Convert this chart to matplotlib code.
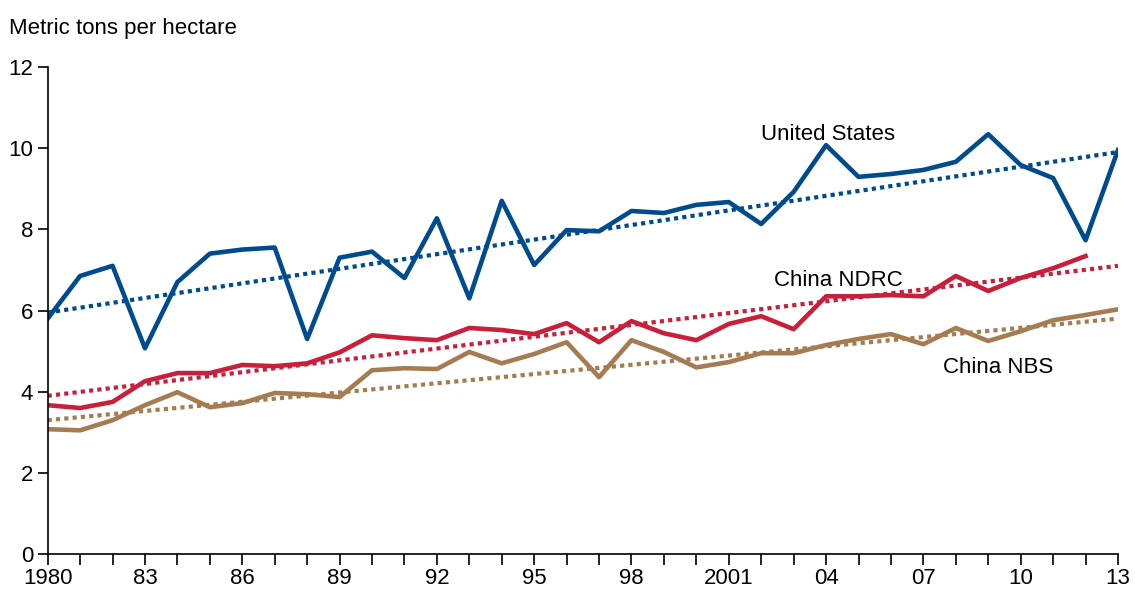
import numpy as np
import matplotlib.pyplot as plt
from matplotlib.ticker import MultipleLocator

plt.rcParams['font.family'] = ['Liberation Sans', 'DejaVu Sans']

years = list(range(1980, 2014))
us = [5.8, 6.85, 7.1, 5.07, 6.7, 7.4, 7.5, 7.55, 5.3, 7.3, 7.45, 6.8, 8.27, 6.3, 8.7,
      7.12, 7.98, 7.95, 8.45, 8.4, 8.6, 8.67, 8.13, 8.92, 10.07, 9.29, 9.36, 9.46,
      9.66, 10.34, 9.58, 9.26, 7.73, 9.95]
ndrc = [3.67, 3.6, 3.75, 4.26, 4.46, 4.46, 4.66, 4.63, 4.7, 4.97, 5.39, 5.32, 5.27,
        5.57, 5.52, 5.42, 5.69, 5.22, 5.74, 5.44, 5.27, 5.67, 5.86, 5.54, 6.35, 6.35,
        6.38, 6.35, 6.85, 6.48, 6.8, 7.04, 7.34]
nbs = [3.08, 3.05, 3.3, 3.67, 3.99, 3.62, 3.72, 3.97, 3.94, 3.87, 4.53, 4.58, 4.56,
       4.98, 4.7, 4.93, 5.22, 4.36, 5.27, 4.98, 4.6, 4.73, 4.95, 4.95, 5.15, 5.3,
       5.42, 5.17, 5.57, 5.25, 5.49, 5.76, 5.89, 6.03]
trend_years = [1980, 2013]
us_trend = [5.95, 9.9]
ndrc_trend = [3.9, 7.1]
nbs_trend = [3.3, 5.8]

c_us, c_ndrc, c_nbs = '#004b8d', '#c8203a', '#a57c52'

fig, ax = plt.subplots(figsize=(11.35, 5.96), dpi=100)
fig.subplots_adjust(left=0.042, right=0.985, top=0.888, bottom=0.07)

ax.plot(years, us, color=c_us, lw=3.3)
ax.plot(years[:len(ndrc)], ndrc, color=c_ndrc, lw=3.3)
ax.plot(years, nbs, color=c_nbs, lw=3.3)
ax.plot(trend_years, us_trend, color=c_us, lw=3, ls=(0, (1, 1)))
ax.plot(trend_years, ndrc_trend, color=c_ndrc, lw=3, ls=(0, (1, 1)))
ax.plot(trend_years, nbs_trend, color=c_nbs, lw=3, ls=(0, (1, 1)))

ax.text(2002.0, 10.2, 'United States', fontsize=16)
ax.text(2002.4, 6.6, 'China NDRC', fontsize=16)
ax.text(2007.6, 4.45, 'China NBS', fontsize=16)

ax.set_xlim(1980, 2013)
ax.set_ylim(0, 12)
ax.set_yticks(range(0, 13, 2))
xt = list(range(1980, 2014, 3))
ax.set_xticks(xt)
ax.set_xticklabels(['1980' if y == 1980 else '2001' if y == 2001 else f'{y % 100:02d}' for y in xt])
ax.xaxis.set_minor_locator(MultipleLocator(1))
ax.tick_params(axis='both', which='both', direction='out', labelsize=16, width=1.2)
ax.tick_params(axis='x', which='major', length=8, pad=2)
ax.tick_params(axis='x', which='minor', length=8)
ax.tick_params(axis='y', length=7)
for s in ['top', 'right']:
    ax.spines[s].set_visible(False)
for s in ['left', 'bottom']:
    ax.spines[s].set_linewidth(1.2)
fig.text(0.008, 0.943, 'Metric tons per hectare', fontsize=16)

fig.savefig('out.png')
